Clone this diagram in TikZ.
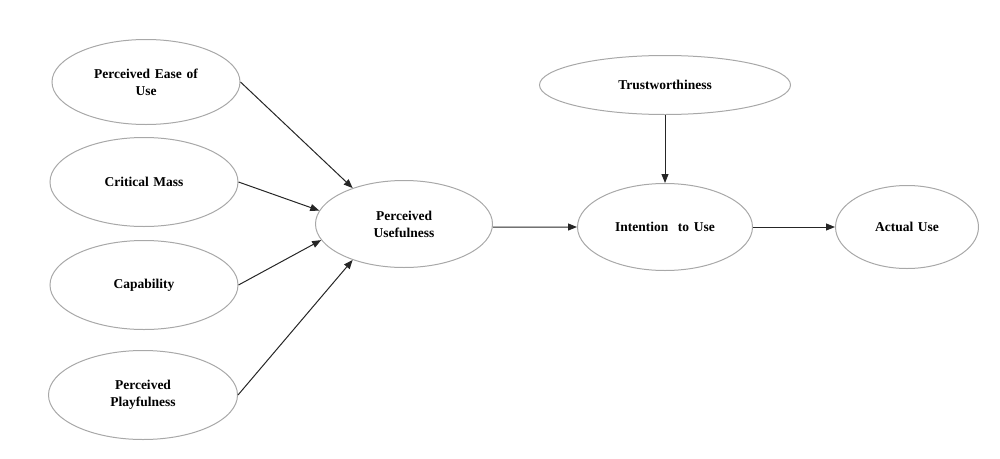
\documentclass[tikz,border=0pt]{standalone}
\usepackage{fontspec}
\setmainfont[WordSpace={1.4}]{Liberation Serif}
\usetikzlibrary{shapes.geometric,arrows.meta}
\definecolor{edgegray}{RGB}{168,168,168}
\begin{document}
\begin{tikzpicture}[x=1pt,y=-1pt,
  construct/.style={ellipse,draw=edgegray,line width=1pt,inner sep=0pt,align=center,
    font=\fontsize{13.5}{17}\selectfont\bfseries},
  link/.style={draw=black!85,line width=1pt,-{Triangle[length=9pt,width=7pt]}}]
\useasboundingbox (0,0) rectangle (1000,458);
\node[construct,minimum width=188pt,minimum height=85pt] (peu) at (146,82) {Perceived Ease of\\Use};
\node[construct,minimum width=188pt,minimum height=89pt] (cm) at (144,182) {Critical Mass};
\node[construct,minimum width=188pt,minimum height=89pt] (cap) at (144,285) {Capability};
\node[construct,minimum width=189pt,minimum height=89pt] (pp) at (143,395) {Perceived\\Playfulness};
\node[construct,minimum width=177pt,minimum height=87pt] (pu) at (404,224) {Perceived\\Usefulness};
\node[construct,minimum width=251pt,minimum height=59pt] (tw) at (665,85) {Trustworthiness};
\node[construct,minimum width=175pt,minimum height=87pt] (itu) at (665,227) {Intention\ \ to Use};
\node[construct,minimum width=143pt,minimum height=83pt] (au) at (907,227) {Actual Use};
\draw[link] (peu.east) -- (pu.145);
\draw[link] (cm.east) -- (pu.171);
\draw[link] (cap.east) -- (pu.191);
\draw[link] (pp.east) -- (pu.215);
\draw[link] (pu.-2) -- (itu.west);
\draw[link] (tw.south) -- (itu.north);
\draw[link] (itu.east) -- (au.west);
\end{tikzpicture}
\end{document}
